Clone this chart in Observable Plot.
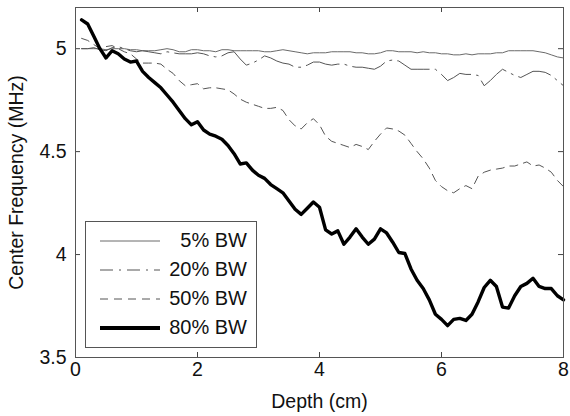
<!DOCTYPE html>
<html>
<head>
<meta charset="utf-8">
<script src="https://cdn.jsdelivr.net/npm/d3@7"></script>
<script src="https://cdn.jsdelivr.net/npm/@observablehq/plot@0.6"></script>
<style>
  html, body { margin: 0; padding: 0; background: #fff; }
  #wrap { position: relative; width: 570px; height: 416px; font-family: "Liberation Sans", Arial, sans-serif; }
  #legend { position: absolute; left: 85px; top: 221px; width: 172px; height: 127px; box-sizing: border-box;
            border: 1px solid #555; background: #fff; padding-top: 4px; }
  .row { display: flex; align-items: center; height: 29px; }
  .row svg { margin-left: 14px; flex: none; }
  .row span { flex: 1; text-align: right; padding-right: 9px; font-size: 20px; color: #111; }
</style>
</head>
<body>
<div id="wrap"></div>
<script>
// ---- data ----
const depth = [0.1,0.2,0.3,0.4,0.5,0.6,0.7,0.8,0.9,1.0,
  1.1,1.2,1.3,1.4,1.5,1.6,1.7,1.8,1.9,2.0,
  2.1,2.2,2.3,2.4,2.5,2.6,2.7,2.8,2.9,3.0,
  3.1,3.2,3.3,3.4,3.5,3.6,3.7,3.8,3.9,4.0,
  4.1,4.2,4.3,4.4,4.5,4.6,4.7,4.8,4.9,5.0,
  5.1,5.2,5.3,5.4,5.5,5.6,5.7,5.8,5.9,6.0,
  6.1,6.2,6.3,6.4,6.5,6.6,6.7,6.8,6.9,7.0,
  7.1,7.2,7.3,7.4,7.5,7.6,7.7,7.8,7.9,8.0];

const bw5 = [5.00,5.00,5.00,5.00,4.995,5.00,5.00,5.00,4.995,4.995,
  4.99,4.99,4.99,4.995,5.00,4.995,4.985,4.985,4.995,4.995,
  4.99,4.99,4.985,4.995,4.995,4.99,4.99,4.99,4.99,4.99,
  4.985,4.985,4.99,4.995,4.99,4.985,4.98,4.975,4.98,4.98,
  4.98,4.985,4.985,4.985,4.985,4.98,4.98,4.975,4.975,4.98,
  4.99,4.99,4.985,4.985,4.985,4.98,4.985,4.98,4.98,4.975,
  4.975,4.97,4.97,4.975,4.97,4.975,4.975,4.975,4.98,4.98,
  4.99,4.99,4.99,4.99,4.99,4.985,4.98,4.97,4.96,4.955];

const bw20 = [5.00,5.00,5.005,4.995,4.99,5.005,5.01,5.00,4.99,4.985,
  4.99,4.985,4.98,4.975,4.985,4.98,4.975,4.975,4.975,4.98,
  4.975,4.965,4.96,4.965,4.98,4.985,4.95,4.92,4.93,4.945,
  4.965,4.955,4.94,4.93,4.925,4.91,4.91,4.92,4.935,4.935,
  4.925,4.92,4.925,4.925,4.915,4.91,4.91,4.905,4.90,4.915,
  4.94,4.945,4.94,4.92,4.90,4.90,4.90,4.90,4.90,4.875,
  4.845,4.86,4.88,4.875,4.875,4.87,4.82,4.845,4.875,4.90,
  4.885,4.87,4.86,4.875,4.89,4.89,4.885,4.87,4.845,4.82];

const bw50 = [5.05,5.04,5.02,5.00,5.01,5.015,5.00,4.985,4.975,4.95,
  4.93,4.93,4.93,4.925,4.90,4.88,4.845,4.82,4.825,4.83,
  4.805,4.81,4.81,4.805,4.80,4.78,4.755,4.74,4.73,4.72,
  4.71,4.71,4.715,4.70,4.655,4.625,4.61,4.64,4.66,4.63,
  4.575,4.55,4.54,4.53,4.52,4.535,4.525,4.51,4.55,4.585,
  4.615,4.61,4.60,4.58,4.54,4.50,4.465,4.42,4.36,4.33,
  4.31,4.30,4.32,4.335,4.32,4.38,4.40,4.41,4.415,4.42,
  4.43,4.43,4.44,4.45,4.43,4.435,4.42,4.40,4.36,4.33];

const bw80 = [5.14,5.12,5.06,5.00,4.955,4.99,4.975,4.95,4.935,4.94,
  4.89,4.86,4.835,4.81,4.775,4.74,4.70,4.66,4.63,4.645,
  4.605,4.585,4.575,4.56,4.53,4.49,4.44,4.445,4.41,4.385,
  4.37,4.34,4.32,4.30,4.26,4.22,4.195,4.225,4.255,4.23,
  4.12,4.10,4.115,4.05,4.085,4.125,4.085,4.05,4.075,4.125,
  4.105,4.06,4.01,4.005,3.93,3.875,3.835,3.78,3.71,3.685,
  3.655,3.685,3.69,3.68,3.71,3.77,3.84,3.875,3.845,3.745,
  3.74,3.80,3.845,3.86,3.885,3.845,3.835,3.835,3.80,3.78];

const seriesNames = ["5% BW", "20% BW", "50% BW", "80% BW"];
const xTicks = [0, 2, 4, 6, 8];
const yTicks = [3.5, 4, 4.5, 5];
const xDomain = [0, 8];
const yDomain = [3.5, 5.2];

// styles
const styles = {
  "5% BW":  {stroke: "#6a6a6a", strokeWidth: 1, dash: null},
  "20% BW": {stroke: "#555", strokeWidth: 1, dash: "34,6,2,6"},
  "50% BW": {stroke: "#555", strokeWidth: 1, dash: "8,6"},
  "80% BW": {stroke: "#000", strokeWidth: 3.4, dash: null}
};
const values = [bw5, bw20, bw50, bw80];
const rows = seriesNames.map((name, k) => depth.map((d, i) => ({depth: d, freq: values[k][i], series: name})));

const font = '"Liberation Sans", Arial, sans-serif';

const lineMarks = rows.map((r, k) => {
  const s = styles[seriesNames[k]];
  return Plot.line(r, {x: "depth", y: "freq", stroke: s.stroke, strokeWidth: s.strokeWidth,
    strokeDasharray: s.dash, strokeLinejoin: "round"});
});

const tickStroke = "#444";
const chart = Plot.plot({
  width: 570,
  height: 416,
  marginLeft: 75,
  marginRight: 7,
  marginTop: 7,
  marginBottom: 59,
  style: {fontFamily: font, fontSize: "17px", color: "#111", background: "#fff"},
  x: {domain: xDomain},
  y: {domain: yDomain},
  marks: [
    ...lineMarks,
    // inward ticks on all four sides
    Plot.ruleX(xTicks, {x: d => d, y1: yDomain[0], y2: yDomain[0], insetTop: -5, stroke: tickStroke}),
    Plot.ruleX(xTicks, {x: d => d, y1: yDomain[1], y2: yDomain[1], insetBottom: -5, stroke: tickStroke}),
    Plot.ruleY(yTicks, {y: d => d, x1: xDomain[0], x2: xDomain[0], insetRight: -5, stroke: tickStroke}),
    Plot.ruleY(yTicks, {y: d => d, x1: xDomain[1], x2: xDomain[1], insetLeft: -5, stroke: tickStroke}),
    Plot.frame({stroke: "#555", strokeWidth: 1}),
    Plot.axisX({anchor: "bottom", ticks: xTicks, tickSize: 0, tickPadding: 5, fontSize: 17,
      label: "Depth (cm)", labelAnchor: "center", labelArrow: "none", labelOffset: 50}),
    Plot.axisY({anchor: "left", ticks: yTicks, tickSize: 0, tickPadding: 9, fontSize: 17,
      tickFormat: d => String(d), label: "Center Frequency (MHz)", labelAnchor: "center", labelArrow: "none", labelOffset: 66})
  ]
});

const wrap = document.getElementById("wrap");
wrap.appendChild(chart);
d3.select(chart).selectAll("g[aria-label$='label'] text").style("font-size", "19.5px");

// legend
const legend = document.createElement("div");
legend.id = "legend";
seriesNames.forEach(name => {
  const s = styles[name];
  const row = document.createElement("div");
  row.className = "row";
  const svg = d3.create("svg").attr("width", 62).attr("height", 10);
  svg.append("line").attr("x1", 0).attr("x2", 60).attr("y1", 5).attr("y2", 5)
    .attr("stroke", s.stroke).attr("stroke-width", s.strokeWidth + (name === "80% BW" ? 0.6 : 0))
    .attr("stroke-dasharray", name === "20% BW" ? "13,6,2,6" : s.dash);
  row.appendChild(svg.node());
  const t = document.createElement("span");
  t.textContent = name;
  row.appendChild(t);
  legend.appendChild(row);
});
wrap.appendChild(legend);
</script>
</body>
</html>
